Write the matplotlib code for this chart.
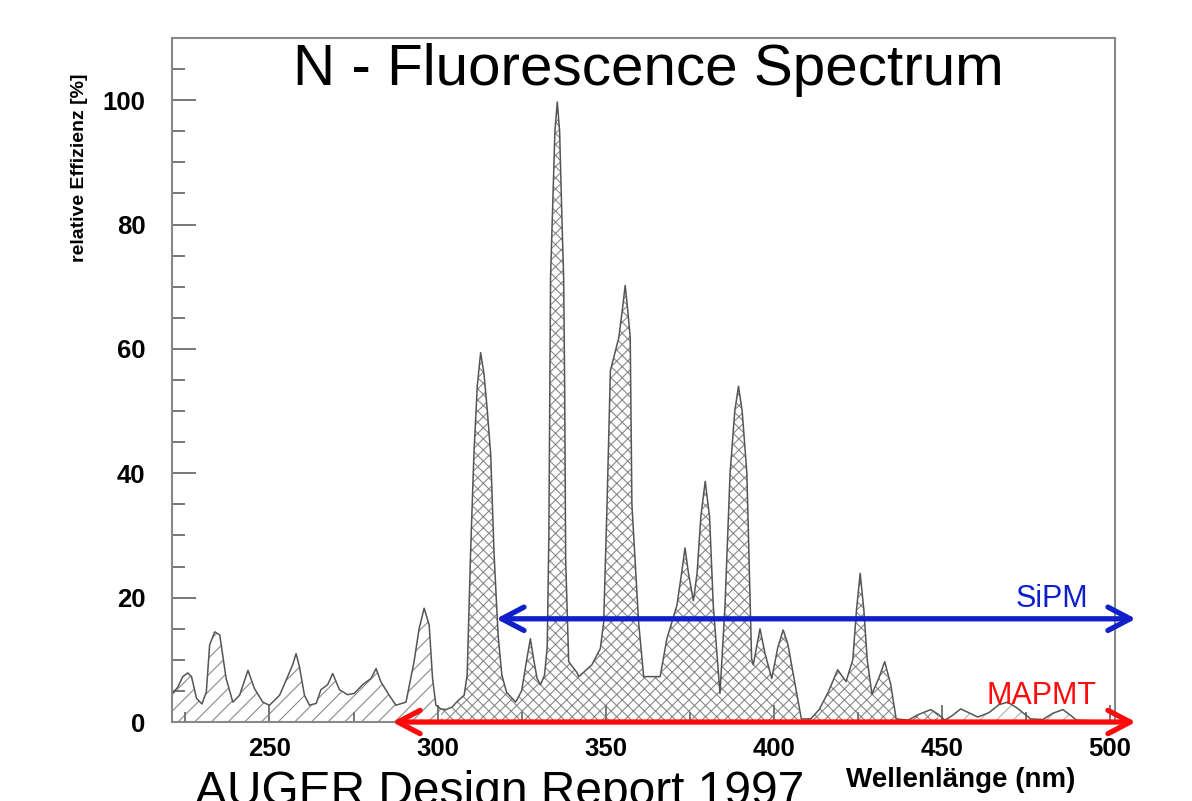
import numpy as np
import matplotlib
matplotlib.use("Agg")
import matplotlib.pyplot as plt
from matplotlib.ticker import MultipleLocator

# N2 fluorescence spectrum (wavelength nm, relative efficiency %)
wavelength = [
    221.0, 222.7, 224.2, 225.7, 226.8, 228.3, 229.9, 231.2, 232.2, 233.7,
    235.2, 237.1, 239.1, 241.1, 243.6, 245.5, 248.0, 250.0, 253.0, 255.4,
    256.9, 257.9, 258.9, 260.4, 261.9, 263.9, 265.3, 267.3, 268.8, 270.8,
    273.2, 275.2, 277.7, 280.2, 281.7, 283.1, 285.6, 287.6, 290.6, 293.0,
    294.5, 296.0, 297.5, 298.5, 299.5, 301.0, 302.5, 304.3, 306.0, 307.9,
    308.8, 309.8, 310.8, 311.8, 312.8, 313.8, 314.8, 315.8, 316.8, 318.0,
    319.1, 320.5, 323.2, 325.0, 326.5, 327.6, 328.6, 329.6, 330.6, 331.8,
    332.6, 333.1, 333.4, 333.6, 334.1, 334.9, 335.6, 336.3, 337.0, 337.5,
    337.8, 338.1, 339.0, 341.4, 342.0, 345.9, 348.4, 349.4, 350.4, 351.4,
    353.9, 354.9, 355.8, 356.6, 357.3, 357.8, 359.8, 361.3, 366.2, 368.2,
    371.2, 372.6, 373.6, 374.6, 376.1, 377.2, 378.3, 379.6, 380.9, 382.0,
    384.0, 385.5, 387.0, 388.4, 389.5, 390.6, 392.0, 393.4, 393.9, 395.9,
    397.4, 399.4, 401.2, 402.8, 404.2, 405.3, 408.2, 411.0, 413.5, 416.2,
    419.0, 421.5, 423.5, 424.6, 425.7, 426.8, 427.8, 429.2, 431.2, 433.0,
    434.8, 436.4, 440.0, 443.0, 446.7, 449.0, 450.9, 453.0, 455.6, 458.0,
    460.7, 464.0, 467.0, 469.6, 472.5, 476.4, 480.0, 483.0, 486.0, 488.5,
    490.0, 495.0, 501.0,
]
efficiency = [
    4.5, 5.6, 7.3, 7.9, 7.3, 3.8, 2.9, 4.8, 12.4, 14.5,
    14.0, 7.0, 3.2, 4.3, 8.3, 5.4, 3.2, 2.7, 4.3, 7.3,
    9.2, 11.0, 8.9, 4.3, 2.7, 3.0, 5.2, 6.0, 7.8, 5.2,
    4.4, 4.6, 6.0, 7.0, 8.6, 6.5, 4.3, 2.7, 3.2, 9.7,
    15.0, 18.3, 15.6, 7.0, 2.7, 2.1, 2.0, 2.4, 3.4, 4.3,
    7.6, 27.0, 43.0, 54.0, 59.4, 56.0, 50.0, 43.0, 27.0, 14.0,
    7.6, 4.8, 3.2, 5.0, 10.0, 13.4, 10.0, 7.0, 6.0, 7.5,
    12.0, 30.0, 54.0, 71.5, 80.6, 95.0, 99.7, 95.0, 80.6, 71.5,
    54.0, 26.0, 9.7, 8.0, 7.3, 9.2, 11.8, 16.0, 35.0, 56.5,
    61.8, 66.0, 70.2, 66.0, 61.8, 35.0, 16.0, 7.3, 7.3, 13.4,
    18.8, 24.0, 28.0, 24.0, 19.5, 24.0, 33.0, 38.7, 33.0, 18.8,
    4.6, 18.8, 40.0, 50.0, 54.0, 50.0, 40.0, 10.2, 9.2, 15.0,
    11.0, 7.0, 12.0, 14.8, 12.5, 9.2, 0.5, 0.5, 2.0, 4.8,
    8.4, 6.5, 10.0, 18.0, 23.9, 18.0, 10.0, 4.5, 7.0, 9.7,
    6.0, 0.5, 0.3, 1.2, 2.0, 1.2, 0.3, 1.0, 2.1, 1.5,
    0.8, 1.5, 2.8, 3.2, 2.2, 0.5, 0.4, 1.4, 2.0, 1.0,
    0.3, 0.2, 0.2,
]

# hatch regions (nm)
uv_edge = 301.0
blue_edge = 450.0

# detector ranges: (start, end, y)
sipm_range = (317.4, 507.7, 16.6)
mapmt_range = (286.5, 507.7, 0.0)

wl = np.array(wavelength)
eff = np.array(efficiency)

plt.rcParams["font.family"] = ["Liberation Sans", "DejaVu Sans"]
plt.rcParams["hatch.color"] = "#8a8a8a"
plt.rcParams["hatch.linewidth"] = 0.8

fig = plt.figure(figsize=(11.92, 8.01), dpi=100)
ax = fig.add_axes([0.1443, 0.0986, 0.7911, 0.854])

ax.fill_between(wl, 0, eff, where=wl <= uv_edge, facecolor="white",
                edgecolor="#8a8a8a", hatch="//", linewidth=0)
ax.fill_between(wl, 0, eff, where=(wl >= uv_edge) & (wl <= blue_edge),
                facecolor="white", edgecolor="#8a8a8a", hatch="xxx", linewidth=0)
ax.fill_between(wl, 0, eff, where=wl >= blue_edge, facecolor="white",
                edgecolor="#b0b0b0", hatch="//", linewidth=0)
ax.plot(wl, eff, color="#555555", linewidth=1.1)

ax.set_xlim(221, 501.5)
ax.set_ylim(0, 110)
ax.xaxis.set_major_locator(MultipleLocator(50))
ax.xaxis.set_minor_locator(MultipleLocator(25))
ax.yaxis.set_major_locator(MultipleLocator(20))
ax.yaxis.set_minor_locator(MultipleLocator(5))
ax.tick_params(which="both", direction="in", color="#777777", width=1.4,
               top=False, right=False)
ax.tick_params(axis="y", which="major", length=17, pad=19, labelsize=18.5)
ax.tick_params(axis="y", which="minor", length=9)
ax.tick_params(axis="x", which="major", length=12, pad=11, labelsize=18.5)
ax.tick_params(axis="x", which="minor", length=7)
for lbl in ax.get_xticklabels() + ax.get_yticklabels():
    lbl.set_fontweight("bold")
for sp in ax.spines.values():
    sp.set_color("#888888")
    sp.set_linewidth(1.5)

# arrows
blue = "#1020c8"
red = "#ff0a0a"
style = "<->,head_length=0.8,head_width=0.42"
ax.annotate("", xy=(sipm_range[1], sipm_range[2]), xytext=(sipm_range[0], sipm_range[2]),
            arrowprops=dict(arrowstyle=style, color=blue, lw=3.8, mutation_scale=20,
                            shrinkA=0, shrinkB=0, capstyle="round"),
            annotation_clip=False)
ax.annotate("", xy=(mapmt_range[1], mapmt_range[2]), xytext=(mapmt_range[0], mapmt_range[2]),
            arrowprops=dict(arrowstyle=style, color=red, lw=3.8, mutation_scale=20,
                            shrinkA=0, shrinkB=0, capstyle="round"),
            annotation_clip=False)
ax.text(493.5, 18.5, "SiPM", color=blue, fontsize=22, ha="right", va="baseline")
ax.text(496.0, 2.9, "MAPMT", color=red, fontsize=22, ha="right", va="baseline")

# texts
fig.text(648 / 1192, 1 - 70 / 801, "N - Fluorescence Spectrum", fontsize=42,
         ha="center", va="center")
fig.text(195 / 1192, 1 - 805 / 801, "AUGER Design Report 1997", fontsize=34.5,
         ha="left", va="baseline")
fig.text(1075 / 1192, 1 - 780 / 801, "Wellenlänge (nm)", fontsize=20,
         fontweight="bold", ha="right", va="center")
fig.text(80 / 1192, 1 - 168 / 801, "relative Effizienz [%]", fontsize=14,
         fontweight="bold", rotation=90, ha="center", va="center")

fig.savefig("out.png", dpi=100)
